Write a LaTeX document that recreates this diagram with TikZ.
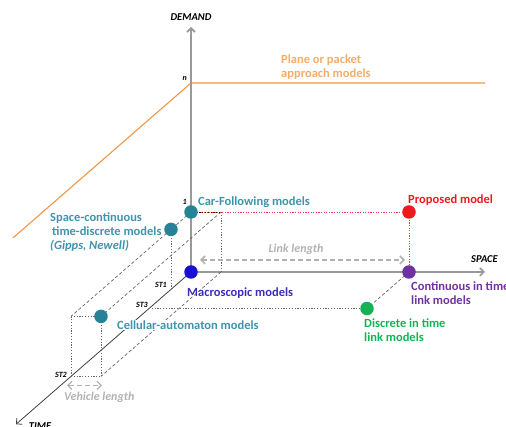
\documentclass[tikz,border=0pt]{standalone}
\usepackage{fontspec}
\setmainfont{Carlito}
\usepackage{xcolor}
\usetikzlibrary{arrows.meta}

\definecolor{tealdot}{RGB}{38,130,150}
\definecolor{tealtxt}{RGB}{62,148,172}
\definecolor{macroblue}{RGB}{25,15,210}
\definecolor{macrotxt}{RGB}{60,45,185}
\definecolor{propred}{RGB}{240,25,30}
\definecolor{contpurple}{RGB}{112,50,160}
\definecolor{discgreen}{RGB}{20,178,85}
\definecolor{planeorange}{RGB}{240,150,70}
\definecolor{planetxt}{RGB}{245,172,105}
\definecolor{lengray}{RGB}{178,178,178}

\begin{document}
\begin{tikzpicture}[
    x={(1pt,0)}, y={(0,1pt)}, z={(-1pt,-0.87pt)},
    font=\fontsize{12.5}{14}\selectfont\bfseries,
    >={Straight Barb[length=4pt,width=8pt]},
    % Styles
    axis/.style={draw=black!40, line width=1.6pt, ->},
    timeaxis/.style={draw=black!75, line width=0.8pt, ->},
    plane/.style={draw=planeorange, line width=1.1pt},
    guide/.style={draw=black!60, line width=0.7pt, dash pattern=on 3.2pt off 2.2pt},
    drop/.style={draw=black!60, line width=0.8pt, dash pattern=on 1.2pt off 1.6pt},
    reddots/.style={draw=propred!85, line width=0.8pt, dash pattern=on 1.2pt off 1.4pt},
    span/.style={draw=lengray, line width=1.6pt, dash pattern=on 5pt off 3pt, <->},
    dot/.style={circle, inner sep=0pt, minimum size=13.5pt},
    model/.style={inner sep=1pt, align=left, anchor=west},
    axlabel/.style={font=\fontsize{10.5}{12}\selectfont\bfseries\itshape},
    stlabel/.style={font=\fontsize{8}{9}\selectfont\bfseries\itshape, inner sep=1pt}
]
\useasboundingbox (-191,-155) rectangle (315,272);

% --- Axes points (space, demand, time) ---
\coordinate (origin) at (0,0,0);
\coordinate (demand_top) at (0,245,0);
\coordinate (demand_n) at (0,189,0);
\coordinate (space_end) at (294,0,0);
\coordinate (time_end) at (0,0,175);
\coordinate (plane_end) at (294,189,0);
\coordinate (plane_back) at (0,189,178);

% --- Model points ---
\coordinate (cf) at (0,60,0);
\coordinate (cf_right) at (30,60,0);
\coordinate (veh_right) at (30,0,0);
\coordinate (proposed) at (218,60,0);
\coordinate (continuous) at (218,0,0);
\coordinate (st1) at (0,0,20);
\coordinate (scd) at (0,60,20);
\coordinate (st3) at (0,0,42);
\coordinate (discrete) at (218,0,42);
\coordinate (st2) at (0,0,120);
\coordinate (cf_back) at (0,60,120);
\coordinate (cellular) at (30,60,120);
\coordinate (st2_right) at (30,0,120);
\coordinate (ll_a) at (9,12,0);
\coordinate (ll_b) at (214,12,0);
\coordinate (vl_a) at (-4,-9,120);
\coordinate (vl_b) at (31,-9,120);

% --- Plane approach ---
\draw[plane] (plane_back) -- (demand_n) -- (plane_end);

% --- Axes ---
\draw[axis] (origin) -- (demand_top);
\draw[axis] (origin) -- (space_end);
\draw[timeaxis] (origin) -- (time_end);

% --- Vehicle box ---
\draw[guide] (cf) -- (cf_back);
\draw[guide] (cf_right) -- (cellular);
\draw[guide] (veh_right) -- (st2_right);
\draw[drop] (cf_right) -- (veh_right);
\draw[drop] (scd) -- (st1);
\draw[drop] (cf_back) -- (cellular);
\draw[drop] (cf_back) -- (st2);
\draw[drop] (cellular) -- (st2_right);
\draw[drop] (st2) -- (st2_right);
\draw[drop] (st3) -- (discrete);

% --- Link models ---
\draw[reddots] (cf) -- (proposed);
\draw[drop, draw=black!70!red] (cf) -- (cf_right);
\draw[reddots] (proposed) -- (continuous);
\draw[guide] (continuous) -- (discrete);

% --- Lengths ---
\draw[span] (ll_a) -- (ll_b);
\draw[span, line width=1.3pt] (vl_a) -- (vl_b);

% --- Dots ---
\node[dot, fill=tealdot] (cf_dot) at (cf) {};
\node[dot, fill=tealdot] (scd_dot) at (scd) {};
\node[dot, fill=tealdot] (cellular_dot) at (cellular) {};
\node[dot, fill=macroblue] (macro_dot) at (origin) {};
\node[dot, fill=propred] (proposed_dot) at (proposed) {};
\node[dot, fill=contpurple] (continuous_dot) at (continuous) {};
\node[dot, fill=discgreen] (discrete_dot) at (discrete) {};

% --- Axis labels ---
\node[axlabel, above, yshift=3pt] (demand_lbl) at (demand_top) {DEMAND};
\node[axlabel, anchor=south east, inner sep=1pt] (space_lbl) at (308,8,0) {SPACE};
\node[axlabel] (time_lbl) at (24,-2,175) {TIME};
\node[stlabel, anchor=south east] (n_lbl) at (-3,190,0) {n};
\node[stlabel, anchor=south east] (one_lbl) at (-3,66,0) {1};
\node[stlabel, anchor=south east] (st1_lbl) at (-3,1,20) {ST1};
\node[stlabel, anchor=south east] (st3_lbl) at (st3) {ST3};
\node[stlabel, anchor=east] (st2_lbl) at (-3,1,120) {ST2};

% --- Model labels ---
\node[model, text=planetxt] (plane_lbl) at (89,205,0) {Plane or packet\\approach models};
\node[model, text=tealtxt] (cf_lbl) at (6,70,0) {Car-Following models};
\node[model, text=propred] (proposed_lbl) at (216,72,0) {Proposed model};
\node[model, text=tealtxt] (scd_lbl) at (-142,40,0) {Space-continuous\\\hspace{2pt}time-discrete models\\\itshape(Gipps, Newell)};
\node[model, text=macrotxt] (macro_lbl) at (-5,-21,0) {Macroscopic models};
\node[model, text=tealtxt, fill=white] (cellular_lbl) at (-75,-53,0) {Cellular-automaton models};
\node[model, text=contpurple] (continuous_lbl) at (219,-21,0) {Continuous in time\\link models};
\node[model, text=discgreen] (discrete_lbl) at (172,-58,0) {Discrete in time\\link models};
\node[text=lengray, font=\fontsize{12}{14}\selectfont\bfseries\itshape] (ll_lbl) at (105,23,0) {Link length};
\node[model, text=lengray, font=\fontsize{12}{14}\selectfont\bfseries\itshape] (vl_lbl) at (-8,-21,120) {Vehicle length};

\end{tikzpicture}
\end{document}
